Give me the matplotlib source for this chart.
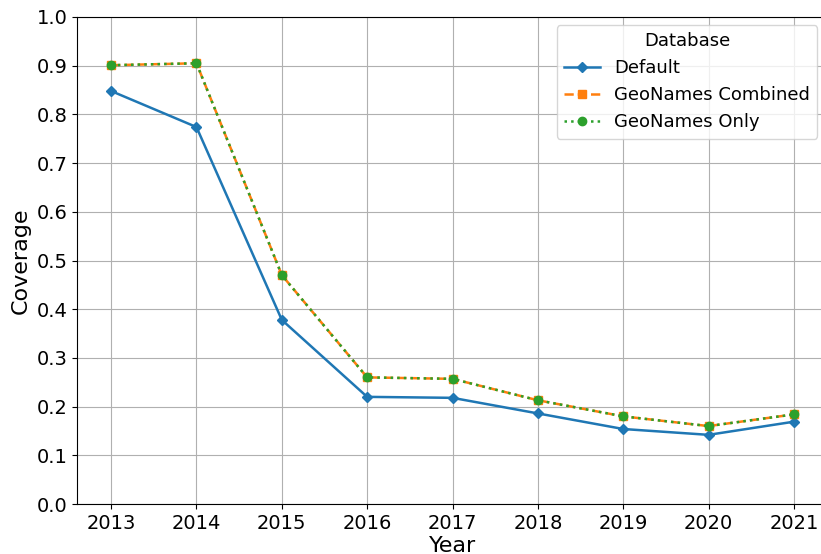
import matplotlib
matplotlib.use("Agg")
import matplotlib.pyplot as plt

years = [2013, 2014, 2015, 2016, 2017, 2018, 2019, 2020, 2021]
default = [0.848, 0.774, 0.378, 0.220, 0.218, 0.186, 0.154, 0.142, 0.169]
geo_combined = [0.901, 0.905, 0.470, 0.260, 0.257, 0.213, 0.180, 0.160, 0.184]
geo_only = [0.901, 0.905, 0.470, 0.260, 0.257, 0.213, 0.180, 0.160, 0.184]

fig = plt.figure(figsize=(8.21, 5.54), dpi=100)
ax = fig.add_axes([77/821, 50/554, (828-77)/821, 487/554])

ax.plot(years, default, color='#1f77b4', marker='D', markersize=5.5, linewidth=1.8, label='Default')
ax.plot(years, geo_combined, color='#ff7f0e', marker='s', markersize=6, linewidth=1.8, linestyle='--', label='GeoNames Combined')
ax.plot(years, geo_only, color='#2ca02c', marker='o', markersize=6, linewidth=1.8, linestyle=':', label='GeoNames Only')

ax.set_ylim(0, 1.0)
ax.set_yticks([i/10 for i in range(11)])
ax.set_xticks(years)
ax.grid(True, color='#b0b0b0', linewidth=0.8)
ax.tick_params(labelsize=14)
ax.set_xlabel('Year', fontsize=16, labelpad=2)
ax.set_ylabel('Coverage', fontsize=16)
leg = ax.legend(title='Database', fontsize=13, title_fontsize=13, loc='upper right',
                bbox_to_anchor=(0.998, 1.002))

fig.savefig('out.png', dpi=100)
